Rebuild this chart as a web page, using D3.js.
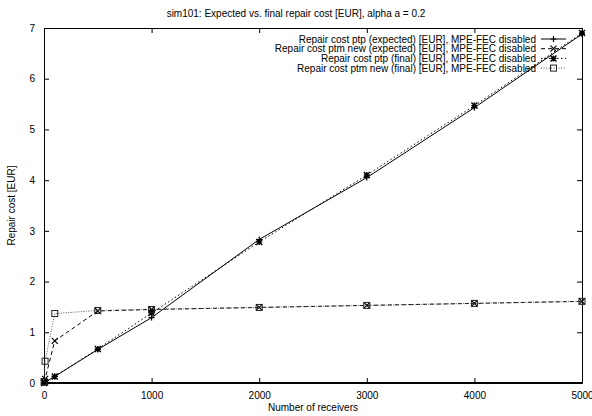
<!DOCTYPE html>
<html>
<head>
<meta charset="utf-8">
<script src="https://cdn.jsdelivr.net/npm/d3@7"></script>
<style>
  body { margin: 0; background: #fff; }
  text { font-family: "Liberation Sans", Arial, sans-serif; font-size: 10px; fill: #000; }
</style>
</head>
<body>
<div class="chart"></div>
<script>
// data
var receivers = [1, 10, 100, 500, 1000, 2000, 3000, 4000, 5000];
var ptpExpected = [0.0013, 0.013, 0.13, 0.66, 1.29, 2.83, 4.05, 5.43, 6.88];
var ptmExpected = [0.02, 0.08, 0.83, 1.42, 1.45, 1.49, 1.53, 1.57, 1.61];
var ptpFinal = [0.001, 0.013, 0.13, 0.67, 1.38, 2.78, 4.10, 5.47, 6.90];
var ptmFinal = [0.03, 0.43, 1.37, 1.43, 1.45, 1.49, 1.53, 1.57, 1.61];
var xTicks = [0, 1000, 2000, 3000, 4000, 5000];
var yTicks = [0, 1, 2, 3, 4, 5, 6, 7];
var seriesNames = [
  "Repair cost ptp (expected) [EUR], MPE-FEC disabled",
  "Repair cost ptm new (expected) [EUR], MPE-FEC disabled",
  "Repair cost ptp (final) [EUR], MPE-FEC disabled",
  "Repair cost ptm new (final) [EUR], MPE-FEC disabled"
];

var svgWidth = 592, svgHeight = 416;
var margin = { top: 28, bottom: 33, right: 10, left: 44 };
var width = svgWidth - margin.left - margin.right;
var height = svgHeight - margin.top - margin.bottom;

var svg = d3.select(".chart").append("svg")
  .attr("width", svgWidth)
  .attr("height", svgHeight);

var chartGroup = svg.append("g")
  .attr("transform", `translate(${margin.left}, ${margin.top})`);

var xScale = d3.scaleLinear().domain([0, 5000]).range([0, width]);
var yScale = d3.scaleLinear().domain([0, 7]).range([height, 0]);

// series styles
var styles = [
  { values: ptpExpected, dash: null, marker: "plus", width: 1, color: "#000" },
  { values: ptmExpected, dash: "4,3", marker: "cross", width: 1, color: "#000" },
  { values: ptpFinal, dash: "1.5,2.5", marker: "star", width: 1, color: "#000" },
  { values: ptmFinal, dash: "1,1.5", marker: "square", width: 1, color: "#555" }
];

// axes, ticks pointing inward, mirrored
chartGroup.append("g")
  .attr("transform", `translate(0, ${height})`)
  .call(d3.axisBottom(xScale).tickValues(xTicks).tickFormat(d3.format("d")).tickSizeInner(-5).tickSizeOuter(0).tickPadding(9));
chartGroup.append("g")
  .call(d3.axisTop(xScale).tickValues(xTicks).tickSizeInner(-5).tickSizeOuter(0).tickFormat(""));
chartGroup.append("g")
  .call(d3.axisLeft(yScale).tickValues(yTicks).tickFormat(d3.format("d")).tickSizeInner(-5).tickSizeOuter(0).tickPadding(9));
chartGroup.append("g")
  .attr("transform", `translate(${width}, 0)`)
  .call(d3.axisRight(yScale).tickValues(yTicks).tickSizeInner(-5).tickSizeOuter(0).tickFormat(""));

chartGroup.selectAll(".domain").attr("stroke", "#000");
chartGroup.selectAll(".tick line").attr("stroke", "#000");
chartGroup.selectAll(".tick text").style("font-size", "10px").attr("fill", "#000");

// thicker bottom border
chartGroup.append("line")
  .attr("x1", 0).attr("x2", width)
  .attr("y1", yScale(0)).attr("y2", yScale(0))
  .attr("stroke", "#000").attr("stroke-width", 2);

function drawMarker(g, type, cx, cy, color) {
  var s = 3;
  if (type === "plus") {
    g.append("path").attr("d", `M${cx - s},${cy}H${cx + s}M${cx},${cy - s}V${cy + s}`)
      .attr("stroke", color).attr("stroke-width", 1.2).attr("fill", "none");
  } else if (type === "cross") {
    g.append("path").attr("d", `M${cx - s},${cy - s}L${cx + s},${cy + s}M${cx - s},${cy + s}L${cx + s},${cy - s}`)
      .attr("stroke", color).attr("stroke-width", 1.2).attr("fill", "none");
  } else if (type === "star") {
    g.append("path").attr("d", `M${cx - s},${cy}H${cx + s}M${cx},${cy - s}V${cy + s}M${cx - s},${cy - s}L${cx + s},${cy + s}M${cx - s},${cy + s}L${cx + s},${cy - s}`)
      .attr("stroke", color).attr("stroke-width", 1.4).attr("fill", "none");
  } else {
    g.append("rect").attr("x", cx - s).attr("y", cy - s).attr("width", 2 * s).attr("height", 2 * s)
      .attr("stroke", "#222").attr("stroke-width", 1).attr("fill", "none");
  }
}

// lines and points
styles.forEach(function(st) {
  var pts = receivers.map((r, i) => [r, st.values[i]]);
  var line = d3.line()
    .x(d => xScale(d[0]))
    .y(d => yScale(d[1]));
  chartGroup.append("path")
    .datum(pts)
    .attr("d", line)
    .attr("fill", "none")
    .attr("stroke", st.color)
    .attr("stroke-width", st.width)
    .attr("stroke-dasharray", st.dash);
  var mg = chartGroup.append("g");
  pts.forEach(function(d) {
    drawMarker(mg, st.marker, xScale(d[0]), yScale(d[1]), "#000");
  });
});

// legend
var legend = svg.append("g");
seriesNames.forEach(function(name, i) {
  var y = 39 + i * 9.7;
  var st = styles[i];
  legend.append("text")
    .attr("x", 536).attr("y", y).attr("dy", "0.35em")
    .attr("text-anchor", "end")
    .text(name);
  legend.append("line")
    .attr("x1", 541).attr("x2", 566).attr("y1", y).attr("y2", y)
    .attr("stroke", st.color).attr("stroke-width", st.width)
    .attr("stroke-dasharray", st.dash);
  drawMarker(legend, st.marker, 553.5, y, "#000");
});

// title and axis labels
svg.append("text")
  .attr("x", 296).attr("y", 17)
  .attr("text-anchor", "middle")
  .text("sim101: Expected vs. final repair cost [EUR], alpha a = 0.2");

svg.append("text")
  .attr("x", margin.left + width / 2).attr("y", 411)
  .attr("text-anchor", "middle")
  .text("Number of receivers");

svg.append("text")
  .attr("transform", "rotate(-90)")
  .attr("x", -(margin.top + height / 2)).attr("y", 15)
  .attr("text-anchor", "middle")
  .text("Repair cost [EUR]");
</script>
</body>
</html>
